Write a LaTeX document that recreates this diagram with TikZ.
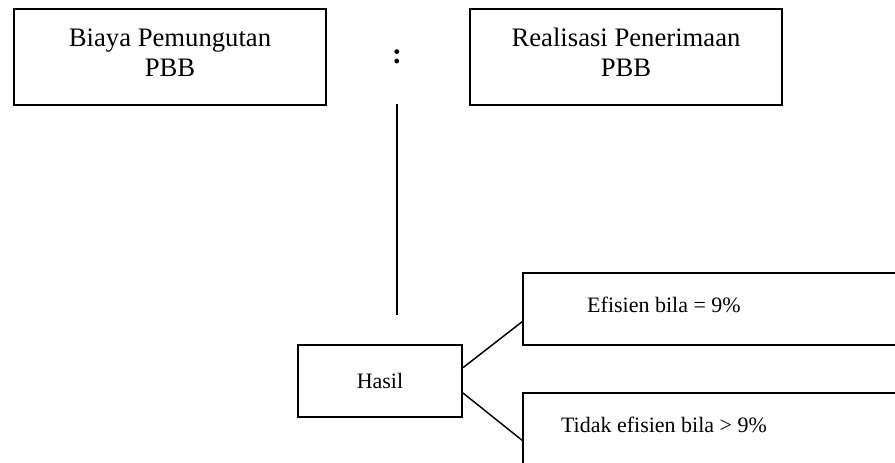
\documentclass[tikz,border=0pt]{standalone}
\usepackage{fontspec}
\setmainfont{Liberation Serif}
\tikzset{
  kotak/.style={draw, line width=1.5pt, inner sep=0pt, align=center,
    font=\fontsize{20}{22.5}\selectfont},
  teks/.style={inner sep=0pt, font=\fontsize{16.5}{19}\selectfont},
  garis/.style={line width=1.1pt}
}
\begin{document}
\begin{tikzpicture}[x=0.75pt,y=-0.75pt]
					\useasboundingbox (0,0) rectangle (895,462);
					\clip (0,0) rectangle (895,462);
					% kotak atas
					\node[kotak, minimum width=234pt, minimum height=72pt, text depth=7pt] (biaya) at (170,57) {Biaya Pemungutan\\PBB};
					\node[kotak, minimum width=234pt, minimum height=72pt, text depth=7pt] (realisasi) at (626,57) {Realisasi Penerimaan\\PBB};
					\node[teks, anchor=base, font=\fontsize{22}{24}\selectfont] (bagi) at (397,63) {\textbf{:}};
					\coordinate (atas) at (397,104);
					\coordinate (bawah) at (397,315);
					\draw[line width=1.5pt] (atas) -- (bawah);
					% hasil
					\node[kotak, minimum width=123pt, minimum height=54pt, font=\fontsize{16.5}{19}\selectfont] (hasil) at (380,381) {Hasil};
					\draw[line width=1.5pt] (523,273) rectangle (960,345);
					\draw[line width=1.5pt] (523,393) rectangle (960,520);
					\node[teks, anchor=base] (efisien) at (664,312) {Efisien bila = 9\%};
					\node[teks, anchor=base] (tidak) at (664,432) {Tidak efisien bila > 9\%};
					\coordinate (ke1) at (523,321);
					\coordinate (ke2) at (523,441);
					\draw[garis] ([yshift=10pt]hasil.east) -- (ke1);
					\draw[garis] ([yshift=-9pt]hasil.east) -- (ke2);
				\end{tikzpicture}
\end{document}
